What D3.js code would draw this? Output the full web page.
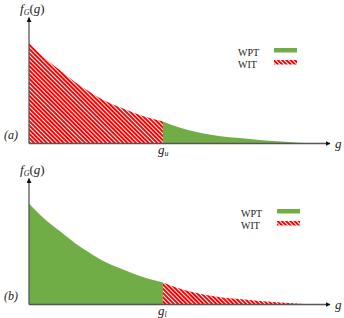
<!DOCTYPE html>
<html>
<head>
<meta charset="utf-8">
<script src="https://cdn.jsdelivr.net/npm/d3@7"></script>
<style>
    body { margin: 0; background: #fff; }
    svg { display: block; }
    .axis-line { stroke: #555; stroke-width: 1.3; fill: none; }
    .math { font-family: 'Liberation Serif', serif; font-style: italic; fill: #222; }
    .legend-text { font-family: 'Liberation Serif', serif; font-size: 10px; fill: #222; }
</style>
</head>
<body>
<script>
// distribution curve f_G(g), sampled along g
var gValues = [0, 0.5, 1, 1.5, 2, 2.5, 3, 3.5, 4, 4.45, 5, 5.5, 6, 6.5, 7, 7.5, 8, 8.5, 9, 9.4];
var fValues = [8.02, 6.83, 5.87, 4.92, 4.13, 3.41, 2.9, 2.42, 2.02, 1.75, 1.27, 0.95, 0.71, 0.54, 0.44, 0.32, 0.22, 0.13, 0.06, 0];
var splitValue = 4.45;
var legendLabels = ['WPT', 'WIT'];
var panelLabels = ['(a)', '(b)'];
var splitLabels = ['u', 'l'];

(function() {
    var options = {
        width: 344,
        height: 318,
        axisX: 29,
        axisEnd: 330,
        panelAxisY: [143.5, 304.5],
        panelHeight: 126,
        green: '#70ad47',
        red: '#ff0000'
    };

    var svg = d3.select('body').append('svg')
        .attr('width', options.width)
        .attr('height', options.height);

    var defs = svg.append('defs');

    defs.append('marker')
        .attr('id', 'arrow')
        .attr('viewBox', '0 0 10 10')
        .attr('refX', 9)
        .attr('refY', 5)
        .attr('markerWidth', 5)
        .attr('markerHeight', 5)
        .attr('markerUnits', 'userSpaceOnUse')
        .attr('orient', 'auto')
        .append('path')
        .attr('d', 'M0,0 L10,5 L0,10 z')
        .attr('fill', '#111');

    var hatch = defs.append('pattern')
        .attr('id', 'hatch')
        .attr('patternUnits', 'userSpaceOnUse')
        .attr('width', 3)
        .attr('height', 3)
        .attr('patternTransform', 'rotate(-45)');
    hatch.append('rect').attr('width', 3).attr('height', 3).attr('fill', '#fff');
    hatch.append('rect').attr('width', 2).attr('height', 3).attr('fill', options.red);

    var x = d3.scaleLinear()
        .domain([0, 10])
        .range([options.axisX, options.axisEnd]);

    var points = gValues.map(function(g, i) { return { g: g, f: fValues[i] }; });

    var drawPanel = function(index, leftFill, rightFill, legendX) {
        var axisY = options.panelAxisY[index];
        var y = d3.scaleLinear()
            .domain([0, 10])
            .range([axisY, axisY - options.panelHeight]);

        var area = d3.area()
            .curve(d3.curveMonotoneX)
            .x(function(d) { return x(d.g); })
            .y0(axisY)
            .y1(function(d) { return y(d.f); });

        var panel = svg.append('g');

        panel.append('path')
            .datum(points.filter(function(d) { return d.g <= splitValue; }))
            .attr('d', area)
            .attr('fill', leftFill);

        panel.append('path')
            .datum(points.filter(function(d) { return d.g >= splitValue; }))
            .attr('d', area)
            .attr('fill', rightFill);

        // axes with arrow heads
        panel.append('line')
            .classed('axis-line', true)
            .attr('x1', x(0)).attr('y1', axisY)
            .attr('x2', x(0)).attr('y2', y(10))
            .attr('marker-end', 'url(#arrow)');

        panel.append('line')
            .classed('axis-line', true)
            .attr('x1', x(0)).attr('y1', axisY)
            .attr('x2', x(10)).attr('y2', axisY)
            .attr('marker-end', 'url(#arrow)');

        var yLabel = panel.append('text')
            .classed('math', true)
            .attr('x', x(0) - 9)
            .attr('y', y(10) - 5)
            .attr('font-size', 13);
        yLabel.append('tspan').text('f');
        yLabel.append('tspan').attr('font-size', 8).attr('dy', 2).text('G');
        yLabel.append('tspan').attr('dy', -2).attr('font-style', 'normal').text('(');
        yLabel.append('tspan').text('g');
        yLabel.append('tspan').attr('font-style', 'normal').text(')');

        panel.append('text')
            .classed('math', true)
            .attr('x', x(10) + 5)
            .attr('y', axisY + 4)
            .attr('font-size', 13)
            .text('g');

        var splitText = panel.append('text')
            .classed('math', true)
            .attr('x', x(splitValue) - 5)
            .attr('y', axisY + 10)
            .attr('font-size', 13);
        splitText.append('tspan').text('g');
        splitText.append('tspan').attr('font-size', 8).attr('dy', 2).text(splitLabels[index]);

        panel.append('text')
            .classed('math', true)
            .attr('x', 4)
            .attr('y', axisY - 5)
            .attr('font-size', 12)
            .text(panelLabels[index]);

        // legend
        var legendTop = axisY - 93;
        [options.green, 'url(#hatch)'].forEach(function(fill, i) {
            panel.append('text')
                .classed('legend-text', true)
                .attr('x', legendX)
                .attr('y', legendTop + i * 12 + 5)
                .text(legendLabels[i]);
            panel.append('rect')
                .attr('x', legendX + 36)
                .attr('y', legendTop + i * 12 - 2.5)
                .attr('width', 23)
                .attr('height', 4.5)
                .attr('fill', fill);
        });
    };

    drawPanel(0, 'url(#hatch)', options.green, 238);
    drawPanel(1, options.green, 'url(#hatch)', 241);
})();
</script>
</body>
</html>
